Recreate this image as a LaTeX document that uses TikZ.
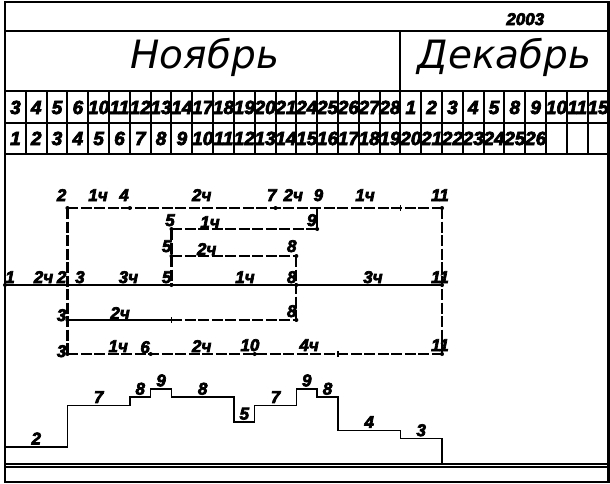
\documentclass[tikz,border=0pt]{standalone}
\usepackage{fontspec}
\newfontfamily\monthfont{DejaVu Sans}
\newfontfamily\numfont{Liberation Sans Bold Italic}[FakeBold=4]
\tikzset{
  frame/.style={line width=2.5pt},
  grid/.style={line width=2pt},
  work/.style={line width=1.5pt},
  reserve/.style={line width=2.2pt, dash pattern=on 11pt off 2.5pt},
  daynum/.style={font=\numfont\fontsize{19}{19}\selectfont, inner sep=0pt, anchor=base},
  num/.style={font=\numfont\fontsize{17}{17}\selectfont, inner sep=0pt, anchor=base},
  month/.style={font=\monthfont\itshape\fontsize{39}{39}\selectfont, inner sep=0pt, anchor=base}
}
\begin{document}
\begin{tikzpicture}[x=20.81pt,y=-1pt]
\useasboundingbox (-0.2403,0) rectangle (29.072,483);
\draw[frame] (0,2) rectangle (29,482);
\foreach \y in {31,91,122.5,153.5,463.5,466.5}
  \draw[grid] (0,\y) -- (29,\y);
\draw[grid] (19,31) -- (19,91);
\foreach \k in {1,...,28}
  \draw[grid] (\k,91) -- (\k,153.5);

\node[num] (year) at (25,25) {2003};
\node[month] (nov) at (9.6,68) {Ноябрь};
\node[month] (dec) at (24,68) {Декабрь};
\foreach \d [count=\k] in {3,4,5,6,10,11,12,13,14,17,18,19,20,21,24,25,26,27,28,1,2,3,4,5,8,9,10,11,15}
  \node[daynum] (top\k) at (\k-0.5,114) {\d};
\foreach \k in {1,...,26}
  \node[daynum] (bot\k) at (\k-0.5,145) {\k};

\coordinate (e1) at (0,285);
\coordinate (e2) at (3,208);
\coordinate (e3) at (3,285);
\coordinate (e3a) at (3,320);
\coordinate (e3b) at (3,354);
\coordinate (e4) at (6,208);
\coordinate (e5a) at (8,229);
\coordinate (e5b) at (8,256);
\coordinate (e5) at (8,285);
\coordinate (e6) at (7,354);
\coordinate (e7) at (13,208);
\coordinate (e8b) at (14,256);
\coordinate (e8) at (14,285);
\coordinate (e8a) at (14,320);
\coordinate (e9) at (15,208);
\coordinate (e9a) at (15,229);
\coordinate (e10) at (12,354);
\coordinate (e11t) at (21,208);
\coordinate (e11) at (21,285);
\coordinate (e11b) at (21,354);
\coordinate (f8) at (8,320);
\coordinate (f16) at (16,354);
\coordinate (f19) at (19,208);

\draw[work] (e1) -- (e3) -- (e5) -- (e8) -- (e11);
\draw[work] (e3a) -- (f8);
\draw[work] (e9a) -- (e9);
\draw[reserve] (f8) -- (e8a);
\draw[reserve] (e2) -- (e4) -- (e7) -- (e9) -- (e11t);
\draw[reserve] (e5a) -- (e9a);
\draw[reserve] (e5b) -- (e8b);
\draw[reserve] (e3b) -- (e6) -- (e10) -- (e11b);
\draw[reserve] (e2) -- (e3b);
\draw[reserve] (e5a) -- (e5);
\draw[reserve] (e8b) -- (e8a);
\draw[reserve] (e11t) -- (e11b);
\foreach \p in {f8,f16,f19}
  \draw[work] ([yshift=3pt]\p) -- ([yshift=-3pt]\p);
\foreach \p in {e1,e2,e3,e3a,e3b,e4,e5a,e5b,e5,e6,e7,e8b,e8,e8a,e9a,e10,e11t,e11,e11b}
  \fill (\p) circle (2pt);

\foreach \t/\a/\b [count=\i] in {2/2.72/201, 1ч/4.47/201, 4/5.72/201, 2ч/9.45/201, 7/12.82/201,
    2ч/13.85/201, 9/15.06/201, 1ч/17.3/201, 11/20.9/201,
    5/7.93/226, 1ч/9.85/228, 9/14.74/226,
    5/7.77/252, 2ч/9.69/255, 8/13.78/252,
    1/0.24/283, 2ч/1.85/283, 2/2.72/283, 3/3.6/283, 3ч/5.93/283, 5/7.77/283,
    1ч/11.53/283, 8/13.78/283, 3ч/17.68/283, 11/20.9/283,
    3/2.72/321, 2ч/5.53/319, 8/13.78/317,
    3/2.72/357, 1ч/5.44/352, 6/6.73/353, 2ч/9.45/352, 10/11.77/351, 4ч/14.61/351, 11/20.9/351}
  \node[num] (lab\i) at (\a,\b) {\t};

\draw[work] (0,463.5) \foreach \a/\b/\h in {0/3/2, 3/6/7, 6/7/8, 7/8/9, 8/11/8, 11/12/5,
    12/14/7, 14/15/9, 15/16/8, 16/19/4, 19/21/3} { -- (\a,{463.5-8.3*\h}) -- (\b,{463.5-8.3*\h}) } -- (21,463.5);
\foreach \a/\b/\h [count=\i] in {0/3/2, 3/6/7, 6/7/8, 7/8/9, 8/11/8, 11/12/5,
    12/14/7, 14/15/9, 15/16/8, 16/19/4, 19/21/3}
  \node[num] (load\i) at ({(\a+\b)/2},{463.5-8.3*\h-2.5}) {\h};
\end{tikzpicture}
\end{document}
